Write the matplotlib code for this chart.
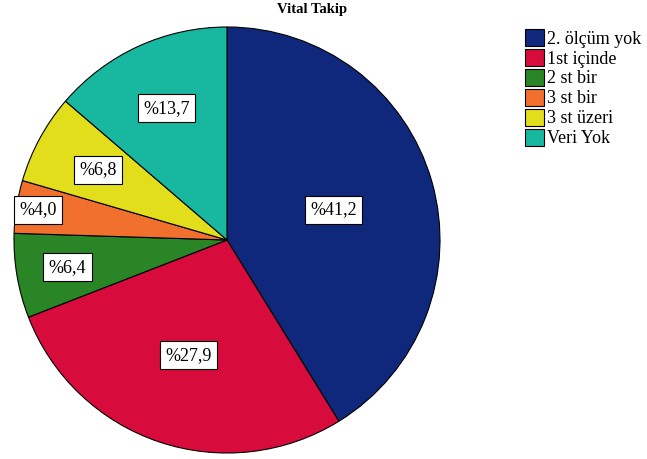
import numpy as np
import matplotlib

matplotlib.use("Agg")
from matplotlib import pyplot

categories = ["2. ölçüm yok", "1st içinde", "2 st bir", "3 st bir", "3 st üzeri", "Veri Yok"]
percents = [41.2, 27.9, 6.4, 4.0, 6.8, 13.7]
colors = ["#10287c", "#d80c3c", "#2a8526", "#f2702e", "#e3de1c", "#18b8a0"]
# radial position of each label, as a fraction of the radius
label_radius = [0.52, 0.57, 0.76, 0.90, 0.69, 0.68]

pyplot.rcParams["font.family"] = ["Liberation Serif", "DejaVu Serif"]

figure = pyplot.figure(figsize=(6.47, 4.59), dpi=100)
# pie centre at about (227, 240) px, radius about 213 px
axis = figure.add_axes([14 / 647, 6 / 459, 426 / 647, 426 / 459])
wedges, _ = axis.pie(
    percents,
    colors=colors,
    startangle=90,
    counterclock=False,
    wedgeprops={"edgecolor": "black", "linewidth": 0.8},
)
axis.set_xlim(-1.0, 1.0)
axis.set_ylim(-1.0, 1.0)
axis.set_aspect("equal")

for wedge, value, radius in zip(wedges, percents, label_radius):
    angle = np.deg2rad((wedge.theta1 + wedge.theta2) / 2)
    axis.text(
        radius * np.cos(angle),
        radius * np.sin(angle),
        "%" + f"{value:.1f}".replace(".", ","),
        ha="center",
        va="center",
        fontsize=13,
        bbox={"boxstyle": "square,pad=0.3", "facecolor": "white", "edgecolor": "black", "linewidth": 0.8},
    )

figure.text(312 / 647, 1 - 9 / 459, "Vital Takip", ha="center", va="center", fontsize=10.5, fontweight="bold")

handles = [pyplot.Rectangle((0, 0), 1, 1, facecolor=c, edgecolor="black", linewidth=0.8) for c in colors]
figure.legend(
    handles,
    categories,
    loc="upper left",
    bbox_to_anchor=(525 / 647, 1 - 29 / 459),
    frameon=False,
    fontsize=13,
    handlelength=1.05,
    handleheight=1.05,
    handletextpad=0.15,
    labelspacing=0.08,
    borderaxespad=0,
    borderpad=0,
)

figure.savefig("out.png")
pyplot.close(figure)
